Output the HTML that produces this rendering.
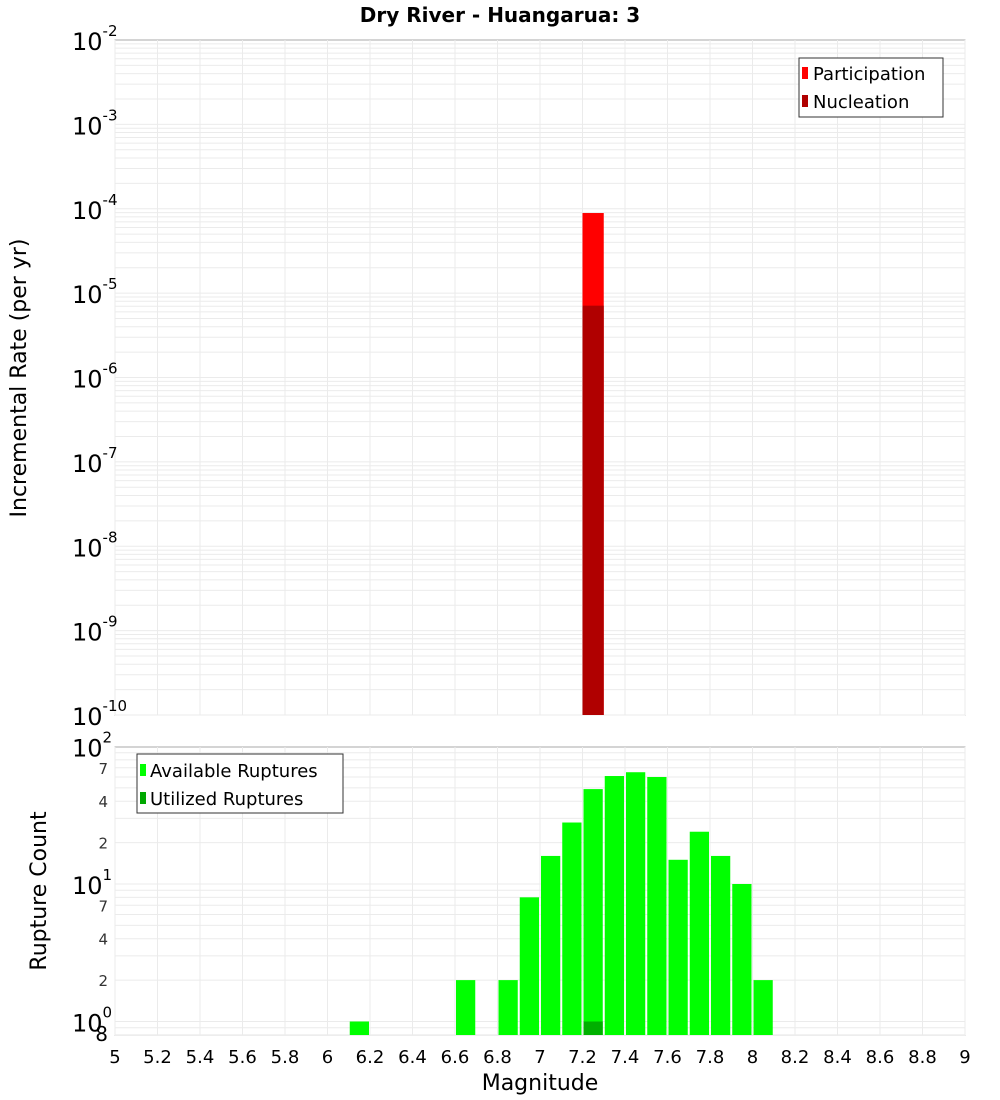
<!DOCTYPE html>
<html><head><meta charset="utf-8"><style>
body{margin:0;background:#fff}
svg{display:block;font-family:"DejaVu Sans","Liberation Sans",sans-serif}
</style></head><body>
<svg id="chart" width="1000" height="1100">
<text x="500" y="22" text-anchor="middle" font-size="20" font-weight="bold">Dry River - Huangarua: 3</text>
<rect x="115" y="40" width="850" height="675" fill="#fff" stroke="#aaa"/>
<rect x="115" y="747" width="850" height="288" fill="#fff" stroke="#aaa"/>
<g id="grid"></g>
<g id="bars"></g>
<g id="axes"></g>
<text transform="translate(26,378) rotate(-90)" text-anchor="middle" font-size="22">Incremental Rate (per yr)</text>
<text transform="translate(46,891) rotate(-90)" text-anchor="middle" font-size="22">Rupture Count</text>
<text x="540" y="1090" text-anchor="middle" font-size="22">Magnitude</text>
<g>
<rect x="799" y="58" width="144" height="59" fill="#fff" stroke="#333"/>
<rect x="802" y="67" width="6" height="12" fill="#ff0000"/>
<text x="813" y="80" font-size="18">Participation</text>
<rect x="802" y="95" width="6" height="12" fill="#b00000"/>
<text x="813" y="108" font-size="18">Nucleation</text>
</g>
<g>
<rect x="137" y="754" width="206" height="59" fill="#fff" stroke="#333"/>
<rect x="140" y="764" width="6" height="12" fill="#00ff00"/>
<text x="150" y="777" font-size="18">Available Ruptures</text>
<rect x="140" y="792" width="6" height="12" fill="#00a800"/>
<text x="150" y="805" font-size="18">Utilized Ruptures</text>
</g>
</svg>
<script>
const binStarts=[7.2];
const participation=[8.9e-5];
const nucleation=[7.1e-6];
const countBins=[6.1,6.6,6.8,6.9,7.0,7.1,7.2,7.3,7.4,7.5,7.6,7.7,7.8,7.9,8.0];
const available=[1,2,2,8,16,28,49,61,65,60,15,24,16,10,2];
const utilizedBins=[7.2];
const utilized=[1];
const xTicks=["5","5.2","5.4","5.6","5.8","6","6.2","6.4","6.6","6.8","7","7.2","7.4","7.6","7.8","8","8.2","8.4","8.6","8.8","9"];
const topExps=[-2,-3,-4,-5,-6,-7,-8,-9,-10];
const botMinorLabels=[2,4,7];

const NS="http://www.w3.org/2000/svg";
const X=m=>115+(m-5)*212.5;
const YT=v=>40+(-2-Math.log10(v))*84.375;
const YB=v=>1021.5-137.5*Math.log10(v);
function mk(p,t,a){const e=document.createElementNS(NS,t);for(const k in a)e.setAttribute(k,a[k]);p.appendChild(e);return e;}
const grid=document.getElementById('grid'),bars=document.getElementById('bars'),axes=document.getElementById('axes');
xTicks.forEach(t=>{const x=X(+t);
 let l=mk(grid,'line',{x1:x,x2:x,y1:40,y2:715,stroke:'#ebebeb'});
 
 l=mk(grid,'line',{x1:x,x2:x,y1:747,y2:1035,stroke:'#ebebeb'});
 
 const tx=mk(axes,'text',{x:x,y:1063,'text-anchor':'middle','font-size':18});tx.textContent=t;
 
});
for(let e=-10;e<-2;e++)for(let k=1;k<10;k++){const y=YT(k*Math.pow(10,e));
 const l=mk(grid,'line',{x1:115,x2:965,y1:y,y2:y,stroke:'#ebebeb'});
 }
for(let e=-1;e<2;e++)for(let k=1;k<10;k++){const y=YB(k*Math.pow(10,e));if(y<747||y>1035)continue;
 const l=mk(grid,'line',{x1:115,x2:965,y1:y,y2:y,stroke:'#ebebeb'});
 }
topExps.forEach(e=>{const y=YT(Math.pow(10,e));
 const t=mk(axes,'text',{x:72,y:y+10,'font-size':24});t.textContent='10';
 
 const s=mk(t,'tspan',{dy:-14,'font-size':15});s.textContent=String(e);});
[0,1,2].forEach(e=>{const y=YB(Math.pow(10,e));
 const t=mk(axes,'text',{x:72,y:y+10,'font-size':24});t.textContent='10';
 
 const s=mk(t,'tspan',{dy:-14,'font-size':15});s.textContent=String(e);});
[0,1].forEach(e=>botMinorLabels.forEach(k=>{const y=YB(k*Math.pow(10,e));
 const t=mk(axes,'text',{x:108,y:y+6,'font-size':15,'text-anchor':'end',fill:'#333'});t.textContent=String(k);
 }));
{const t=mk(axes,'text',{x:108,y:1041,'font-size':20,'text-anchor':'end'});t.textContent='8';
 }
binStarts.forEach((m,i)=>{
 let r=mk(bars,'rect',{x:X(m),y:YT(participation[i]),width:X(m+0.1)-X(m),height:715-YT(participation[i]),fill:'#ff0000'});
 
 r=mk(bars,'rect',{x:X(m),y:YT(nucleation[i]),width:X(m+0.1)-X(m),height:715-YT(nucleation[i]),fill:'#b00000'});
 
});
countBins.forEach((m,i)=>{
 const r=mk(bars,'rect',{x:X(m)+1,y:YB(available[i]),width:X(m+0.1)-X(m)-2,height:1035-YB(available[i]),fill:'#00ff00'});
 
});
utilizedBins.forEach((m,i)=>{
 const r=mk(bars,'rect',{x:X(m)+1,y:YB(utilized[i]),width:X(m+0.1)-X(m)-2,height:1035-YB(utilized[i]),fill:'#00b000'});
 
});
</script>
</body></html>
